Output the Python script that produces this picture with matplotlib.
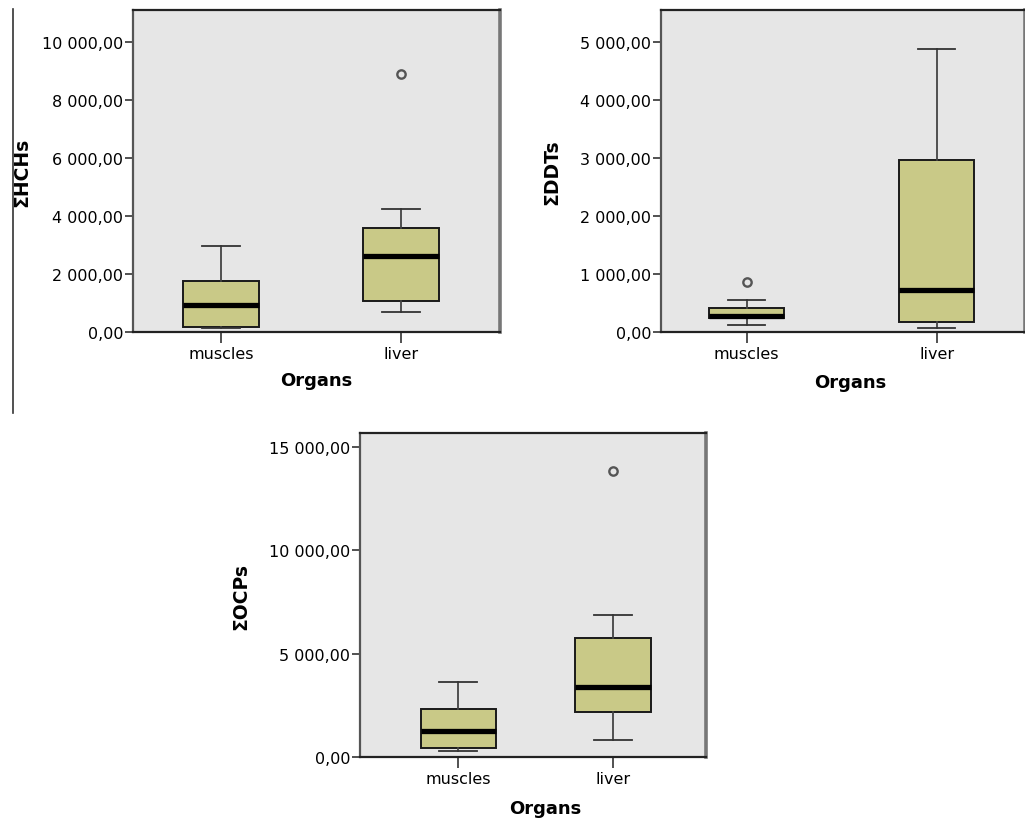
import matplotlib
matplotlib.use("Agg")
import matplotlib.pyplot as plt
from matplotlib.lines import Line2D
from matplotlib.ticker import FixedLocator, FuncFormatter

# ---------------- data ----------------
categories = ["muscles", "liver"]

hch_q1 = [183, 1079]
hch_med = [941, 2610]
hch_q3 = [1748, 3576]
hch_lo = [130, 679]
hch_hi = [2976, 4252]
hch_fliers = [[], [8897]]

ddt_q1 = [241, 172]
ddt_med = [269, 717]
ddt_q3 = [414, 2971]
ddt_lo = [126, 69]
ddt_hi = [545, 4885]
ddt_fliers = [[862], []]

ocp_q1 = [449, 2174]
ocp_med = [1285, 3382]
ocp_q3 = [2319, 5749]
ocp_lo = [304, 836]
ocp_hi = [3623, 6860]
ocp_fliers = [[], [13846]]

hch_ticks = [0, 2000, 4000, 6000, 8000, 10000]
ddt_ticks = [0, 1000, 2000, 3000, 4000, 5000]
ocp_ticks = [0, 5000, 10000, 15000]

W, H = 1025, 820
BOX_FILL = "#C9C987"
BG = "#E6E6E6"


def fmt(v, pos=None):
    s = f"{v:,.2f}"
    return s.replace(",", " ").replace(".", ",")


def panel(rect_px, q1, med, q3, lo, hi, fliers, ticks, ymax, xlim, bw,
          ylabel, ylab_px, xlab_px):
    l, t, r, b = rect_px
    ax = fig.add_axes([l / W, 1 - b / H, (r - l) / W, (b - t) / H])
    ax.set_facecolor(BG)
    stats = []
    for i in range(len(categories)):
        stats.append(dict(q1=q1[i], med=med[i], q3=q3[i], whislo=lo[i],
                          whishi=hi[i], fliers=fliers[i], label=categories[i]))
    ax.bxp(stats, positions=[1, 2], widths=bw, capwidths=bw / 2,
           patch_artist=True, showfliers=True,
           boxprops=dict(facecolor=BOX_FILL, edgecolor="#1a1a1a", linewidth=1.4),
           medianprops=dict(color="black", linewidth=3.8, solid_capstyle="butt"),
           whiskerprops=dict(color="#444444", linewidth=1.3),
           capprops=dict(color="#333333", linewidth=1.3),
           flierprops=dict(marker="o", markersize=6, markerfacecolor="#E6E6E6",
                           markeredgecolor="#555555", markeredgewidth=1.7))
    ax.set_xlim(*xlim)
    ax.set_ylim(0, ymax)
    ax.yaxis.set_major_locator(FixedLocator(ticks))
    ax.yaxis.set_major_formatter(FuncFormatter(fmt))
    ax.tick_params(axis="y", direction="out", length=6, width=1.2,
                   color="#333333", labelsize=11.5, pad=1)
    ax.tick_params(axis="x", direction="out", length=8, width=1.2,
                   color="#333333", labelsize=11.5, pad=2)
    ax.spines["top"].set_color("#222222")
    ax.spines["top"].set_linewidth(1.6)
    ax.spines["left"].set_color("#555555")
    ax.spines["left"].set_linewidth(1.6)
    ax.spines["bottom"].set_color("#222222")
    ax.spines["bottom"].set_linewidth(1.6)
    ax.spines["right"].set_color("#777777")
    ax.spines["right"].set_linewidth(2.6)
    # labels positioned in figure pixels
    fig.text(ylab_px[0] / W, 1 - ylab_px[1] / H, ylabel, rotation=90,
             ha="center", va="center", fontsize=13.5, fontweight="bold")
    fig.text(xlab_px[0] / W, 1 - xlab_px[1] / H, "Organs",
             ha="center", va="center", fontsize=13, fontweight="bold")
    return ax


fig = plt.figure(figsize=(W / 100, H / 100), dpi=100)

panel((133, 10.7, 500, 333), hch_q1, hch_med, hch_q3, hch_lo, hch_hi,
      hch_fliers, hch_ticks, 11126, (0.511, 2.55), 0.417,
      "ΣHCHs", (22, 172), (316, 381))

panel((661, 10.7, 1025, 333), ddt_q1, ddt_med, ddt_q3, ddt_lo, ddt_hi,
      ddt_fliers, ddt_ticks, 5557, (0.549, 2.465), 0.395,
      "ΣDDTs", (552, 172), (850, 383))

panel((360, 434.3, 706, 758.3), ocp_q1, ocp_med, ocp_q3, ocp_lo, ocp_hi,
      ocp_fliers, ocp_ticks, 15647, (0.363, 2.604), 0.49,
      "ΣOCPs", (241, 597), (545, 809))

fig.add_artist(Line2D([13 / W, 13 / W], [1 - 10 / H, 1 - 414 / H],
                      color="#333333", linewidth=1.2))

fig.savefig("out.png", dpi=100)
